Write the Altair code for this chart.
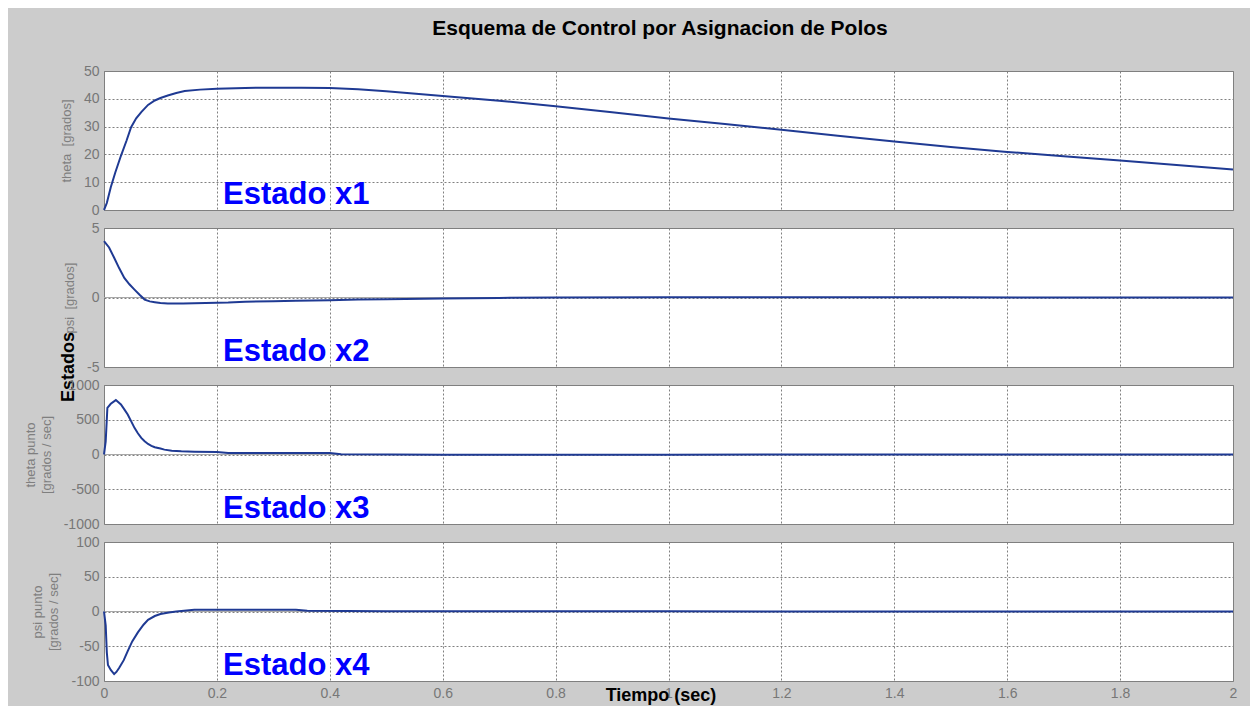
import altair as alt
import pandas as pd

# ---------------- data ----------------
x_ticks = [0, 0.2, 0.4, 0.6, 0.8, 1, 1.2, 1.4, 1.6, 1.8, 2]

t1 = [0, 0.005, 0.012, 0.02, 0.03, 0.04, 0.048, 0.057, 0.066, 0.078, 0.09, 0.1,
      0.113, 0.128, 0.143, 0.17, 0.2, 0.25, 0.3, 0.35, 0.4, 0.45, 0.5, 0.6, 0.7,
      0.8, 0.9, 1.0, 1.1, 1.2, 1.3, 1.4, 1.5, 1.6, 1.7, 1.8, 1.9, 2.0]
x1 = [0, 2.5, 8.2, 13.5, 19.5, 25.0, 29.8, 33.0, 35.2, 37.8, 39.4, 40.3,
      41.2, 42.1, 42.8, 43.3, 43.6, 43.9, 44.0, 44.0, 43.9, 43.4, 42.7, 41.0, 39.3,
      37.3, 35.2, 32.9, 30.9, 28.9, 26.7, 24.6, 22.7, 20.9, 19.3, 17.8, 16.2, 14.6]

t2 = [0, 0.009, 0.018, 0.027, 0.036, 0.045, 0.054, 0.063, 0.072, 0.081, 0.09, 0.1,
      0.113, 0.14, 0.18, 0.22, 0.25, 0.3, 0.34, 0.4, 0.45, 0.5, 0.6, 0.7, 0.8, 1.0,
      1.5, 2.0]
x2 = [4.06, 3.6, 2.86, 2.1, 1.41, 0.95, 0.57, 0.2, -0.15, -0.28, -0.34, -0.4,
      -0.43, -0.43, -0.4, -0.36, -0.3, -0.27, -0.23, -0.2, -0.15, -0.12, -0.07, -0.03,
      0.0, 0.01, 0.01, 0.0]

t3 = [0, 0.003, 0.006, 0.012, 0.021, 0.03, 0.036, 0.042, 0.048, 0.054, 0.06, 0.066,
      0.072, 0.078, 0.084, 0.09, 0.1, 0.107, 0.12, 0.137, 0.16, 0.2, 0.22, 0.3, 0.4,
      0.42, 0.6, 1.0, 2.0]
x3 = [0, 190, 672, 730, 783, 720, 650, 576, 480, 383, 305, 239,
      190, 152, 125, 104, 85, 70, 55, 46, 40, 36, 22, 20, 20,
      2, -3, -2, 0]

t4 = [0, 0.003, 0.005, 0.007, 0.012, 0.018, 0.022, 0.027, 0.035, 0.042, 0.05, 0.06,
      0.07, 0.078, 0.09, 0.1, 0.115, 0.128, 0.16, 0.25, 0.34, 0.36, 0.5, 1.0, 2.0]
x4 = [0, -20, -59, -77, -84, -90, -87, -81, -70, -57, -43, -30,
      -19, -12, -6.5, -3.6, -1.5, 0, 2.6, 2.6, 2.6, 1.0, 0.5, 0.2, 0]

y_ticks_1 = [0, 10, 20, 30, 40, 50]
y_ticks_2 = [-5, 0, 5]
y_ticks_3 = [-1000, -500, 0, 500, 1000]
y_ticks_4 = [-100, -50, 0, 50, 100]

titles = ["theta\u00a0 [grados]", "psi\u00a0 [grados]",
          ["theta punto", "[grados / sec]"], ["psi punto", "[grados / sec]"]]
labels = ["Estado x1", "Estado x2", "Estado x3", "Estado x4"]
main_title = "Esquema de Control por Asignacion de Polos"
y_label = "Estados"
x_label = "Tiempo (sec)"

# ---------------- style ----------------
W, H = 1129, 139
FONT = "Liberation Sans"
LINE = "#1f3a93"
BG = "#cccccc"


def panel(t, v, yticks, ytitle, label, last=False, zero=False):
    df = pd.DataFrame({"t": t, "v": v})
    ydom = [yticks[0], yticks[-1]]
    xaxis = alt.Axis(values=x_ticks, labels=last, ticks=False, domain=False,
                     grid=True, title=None, labelExpr="'' + datum.value")
    yaxis = alt.Axis(values=yticks, ticks=False, domain=False, grid=True,
                     title=ytitle, labelExpr="'' + datum.value")
    yscale = alt.Scale(domain=ydom, nice=False)
    layers = []
    if zero:
        zr = alt.Chart(pd.DataFrame({"v": [0]})).mark_rule(
            color="#a8a8a8", strokeWidth=1).encode(
            y=alt.Y("v:Q", scale=yscale, axis=yaxis))
        layers.append(zr)
    line = alt.Chart(df).mark_line(color=LINE, strokeWidth=2).encode(
        x=alt.X("t:Q", scale=alt.Scale(domain=[0, 2], nice=False), axis=xaxis),
        y=alt.Y("v:Q", scale=yscale, axis=yaxis),
    )
    layers.append(line)
    txt = alt.Chart(pd.DataFrame({"s": [label]})).mark_text(
        font=FONT, fontSize=31, fontWeight="bold", color="#0000ff",
        align="left", baseline="alphabetic").encode(
        x=alt.value(119), y=alt.value(H - 6), text="s:N")
    layers.append(txt)
    return layers


p1 = panel(t1, x1, y_ticks_1, titles[0], labels[0])
p2 = panel(t2, x2, y_ticks_2, titles[1], labels[1], zero=True)
p3 = panel(t3, x3, y_ticks_3, titles[2], labels[2], zero=True)
p4 = panel(t4, x4, y_ticks_4, titles[3], labels[3], last=True, zero=True)

# title and outer extents (panel 1)
title_mark = alt.Chart(pd.DataFrame({"s": [main_title]})).mark_text(
    font=FONT, fontSize=21, fontWeight="bold", color="black",
    align="center", baseline="middle").encode(
    x=alt.value(556), y=alt.value(-42), text="s:N")
ext_top = alt.Chart(pd.DataFrame({"a": [0]})).mark_rule(color=BG, strokeWidth=1).encode(
    x=alt.value(-95), x2=alt.value(W + 16), y=alt.value(-62))
p1 = p1 + [title_mark, ext_top]

# "Estados" (panel 2)
estados = alt.Chart(pd.DataFrame({"s": [y_label]})).mark_text(
    font=FONT, fontSize=18, fontWeight="bold", color="black", angle=270,
    align="center", baseline="middle").encode(
    x=alt.value(-35), y=alt.value(139), text="s:N")
p2 = p2 + [estados]

# "Tiempo (sec)" and bottom extent (panel 4)
tiempo = alt.Chart(pd.DataFrame({"s": [x_label]})).mark_text(
    font=FONT, fontSize=18, fontWeight="bold", color="black",
    align="center", baseline="middle").encode(
    x=alt.value(557), y=alt.value(154), text="s:N")
ext_bot = alt.Chart(pd.DataFrame({"a": [0]})).mark_rule(color=BG, strokeWidth=1).encode(
    x=alt.value(0), x2=alt.value(10), y=alt.value(162))
p4 = p4 + [tiempo, ext_bot]

charts = [alt.layer(*p).properties(width=W, height=H) for p in (p1, p2, p3, p4)]

chart = alt.vconcat(*charts, spacing=18, bounds="flush").properties(
    background=BG, padding=0
).configure_view(
    stroke="#7f7f7f", strokeWidth=1, fill="white"
).configure_axis(
    labelFont=FONT, labelFontSize=14, labelColor="#777777", labelPadding=5,
    titleFont=FONT, titleFontSize=13, titleFontWeight="normal",
    titleColor="#7f7f7f", titlePadding=10, titleLineHeight=16,
    gridColor="#808080", gridDash=[2, 2], gridWidth=1, gridOpacity=1,
    labelFlush=False
)

chart.save("out.html", embed_options={"renderer": "svg", "actions": False})
